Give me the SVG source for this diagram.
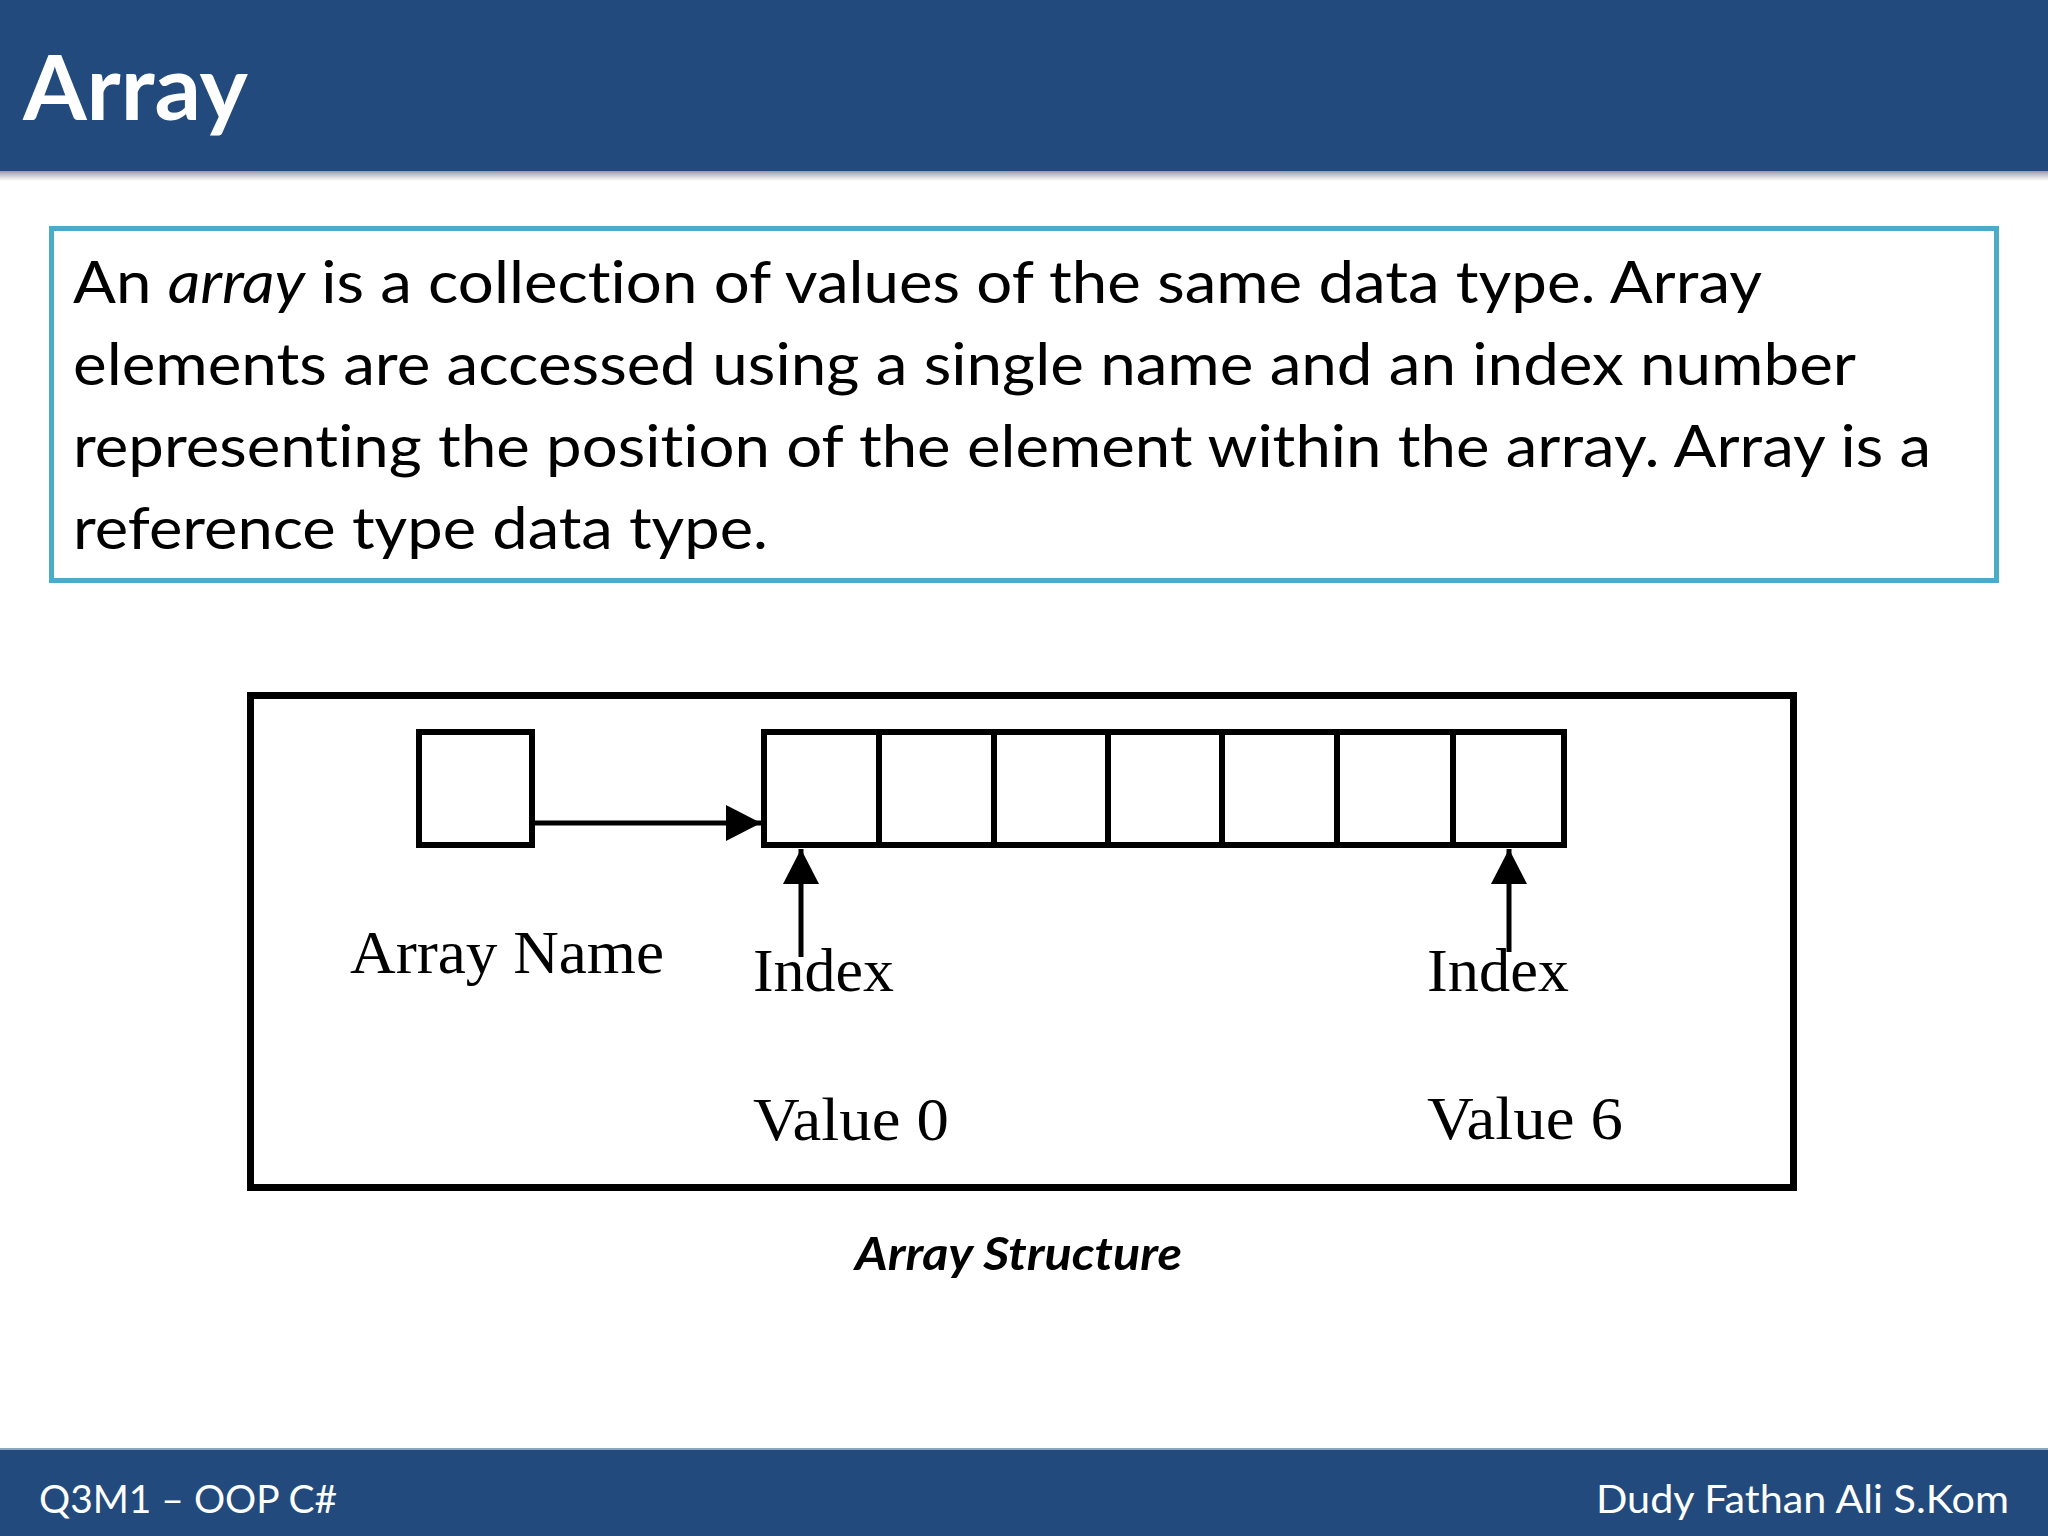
<svg xmlns="http://www.w3.org/2000/svg" width="2048" height="1536" viewBox="0 0 2048 1536">
  <defs>
    <linearGradient id="shadow" x1="0" y1="0" x2="0" y2="1">
      <stop offset="0" stop-color="#9a9aa2"/>
      <stop offset="0.5" stop-color="#d0d0d4"/>
      <stop offset="1" stop-color="#ffffff"/>
    </linearGradient>
    <marker id="arrow" viewBox="0 0 35 36" refX="35" refY="18" markerWidth="35" markerHeight="36" markerUnits="userSpaceOnUse" orient="auto">
      <path d="M0,0 L35,18 L0,36 Z" fill="#000"/>
    </marker>
  </defs>
  <style>
    .band { fill: #224a7c; }
    .sans { font-family: Lato, "Liberation Sans", sans-serif; font-variant-ligatures: none; font-feature-settings: "liga" 0, "clig" 0; }
    .serif { font-family: "Liberation Serif", "Times New Roman", serif; font-size: 62px; fill: #000; }
    .body { font-size: 58px; fill: #000; }
    .foot { font-size: 39px; fill: #ffffff; }
    .cell { fill: none; stroke: #000; stroke-width: 6; }
    .conn { stroke: #000; stroke-width: 5; fill: none; }
  </style>
  <rect x="0" y="0" width="2048" height="1536" fill="#ffffff"/>

  <g id="header">
    <rect class="band" x="0" y="0" width="2048" height="171"/>
    <rect x="0" y="171" width="2048" height="10" fill="url(#shadow)"/>
    <text class="sans" x="23" y="120" font-size="89" font-weight="bold" fill="#ffffff" textLength="225" lengthAdjust="spacingAndGlyphs">Array</text>
  </g>

  <g id="definition">
    <rect x="51.5" y="228.5" width="1945" height="352" fill="#ffffff" stroke="#4bacc6" stroke-width="5"/>
    <text class="sans body" x="73" y="303" textLength="1689" lengthAdjust="spacingAndGlyphs">An <tspan font-style="italic">array</tspan> is a collection of values of the same data type. Array</text>
    <text class="sans body" x="73" y="385" textLength="1783" lengthAdjust="spacingAndGlyphs">elements are accessed using a single name and an index number</text>
    <text class="sans body" x="73" y="467" textLength="1858" lengthAdjust="spacingAndGlyphs">representing the position of the element within the array. Array is a</text>
    <text class="sans body" x="73" y="549" textLength="695" lengthAdjust="spacingAndGlyphs">reference type data type.</text>
  </g>

  <g id="frame">
    <rect x="250.5" y="695.5" width="1543" height="492" fill="#ffffff" stroke="#000" stroke-width="7"/>
  </g>

  <g id="array-name">
    <rect class="cell" x="419" y="732" width="113" height="113"/>
    <text class="serif" x="350" y="973" textLength="314" lengthAdjust="spacingAndGlyphs">Array Name</text>
  </g>

  <g id="array-cells">
    <rect class="cell" x="764" y="732" width="800" height="113"/>
    <line class="cell" x1="879" y1="732" x2="879" y2="845"/>
    <line class="cell" x1="994" y1="732" x2="994" y2="845"/>
    <line class="cell" x1="1108" y1="732" x2="1108" y2="845"/>
    <line class="cell" x1="1222" y1="732" x2="1222" y2="845"/>
    <line class="cell" x1="1337" y1="732" x2="1337" y2="845"/>
    <line class="cell" x1="1453" y1="732" x2="1453" y2="845"/>
  </g>

  <g id="index-0">
    <text class="serif" x="753" y="991" textLength="141" lengthAdjust="spacingAndGlyphs">Index</text>
    <text class="serif" x="753" y="1140" textLength="196" lengthAdjust="spacingAndGlyphs">Value 0</text>
  </g>

  <g id="index-6">
    <text class="serif" x="1427" y="991" textLength="142" lengthAdjust="spacingAndGlyphs">Index</text>
    <text class="serif" x="1427" y="1139" textLength="196" lengthAdjust="spacingAndGlyphs">Value 6</text>
  </g>

  <g id="connectors">
    <line class="conn" x1="535" y1="823" x2="761" y2="823" marker-end="url(#arrow)"/>
    <line class="conn" x1="801" y1="957" x2="801" y2="849" marker-end="url(#arrow)"/>
    <line class="conn" x1="1509" y1="952" x2="1509" y2="849" marker-end="url(#arrow)"/>
  </g>

  <g id="caption">
    <text class="sans" x="855" y="1270" font-size="46" font-weight="bold" font-style="italic" fill="#000" textLength="327" lengthAdjust="spacingAndGlyphs">Array Structure</text>
  </g>

  <g id="footer">
    <rect class="band" x="0" y="1449" width="2048" height="87"/>
    <rect x="0" y="1448" width="2048" height="2" fill="#8aa4c4"/>
    <text class="sans foot" x="39" y="1513" textLength="298" lengthAdjust="spacingAndGlyphs">Q3M1 – OOP C#</text>
    <text class="sans foot" x="1596" y="1513" textLength="413" lengthAdjust="spacingAndGlyphs">Dudy Fathan Ali S.Kom</text>
  </g>
</svg>
